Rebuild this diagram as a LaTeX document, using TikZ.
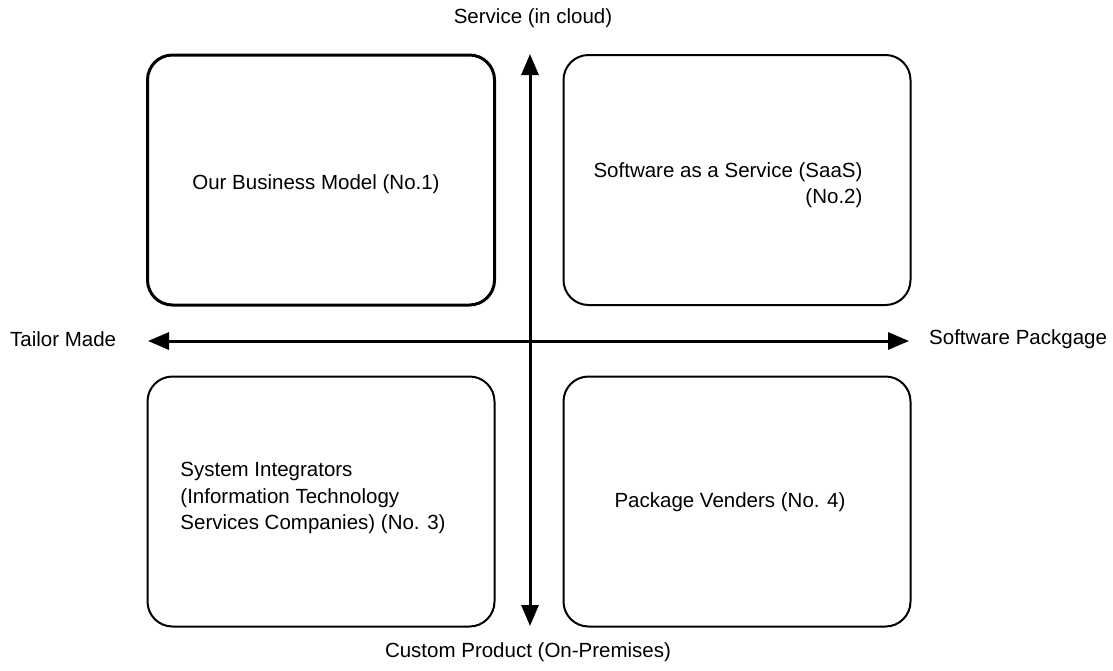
\documentclass[tikz,border=0pt]{standalone}
\usepackage{fontspec}
\setmainfont{Liberation Sans}
\usetikzlibrary{arrows.meta}
\begin{document}
\begin{tikzpicture}[x=1pt,y=-1pt,
  every node/.style={font=\fontsize{20.5}{26.5}\selectfont, inner sep=0pt},
  quad/.style={draw, line width=2pt, rounded corners=25pt, minimum width=347pt, minimum height=250pt},
  axis/.style={line width=3pt, -{Triangle[length=21pt,width=17pt]}},
  lbl/.style={}]
\useasboundingbox (0,0) rectangle (1113,670);
\node[quad, line width=3pt] (b1) at (321,180) {};
\node[quad] (b2) at (737,180) {};
\node[quad] (b3) at (321,501.5) {};
\node[quad] (b4) at (737,501.5) {};
\node[lbl] (t1) at (316,184) {Our Business Model (No.1)};
\node[lbl, align=right] (t2) at (728,185) {Software as a Service (SaaS)\\(No.2)};
\node[lbl, align=left] (t3) at (313,498) {System Integrators\\(Information Technology\\Services Companies) (No. 3)};
\node[lbl] (t4) at (730,502) {Package Venders (No. 4)};
\node[lbl] (top) at (533,18) {Service (in cloud)};
\node[lbl] (bot) at (528,652) {Custom Product (On-Premises)};
\node[lbl, anchor=west] (lft) at (10,339) {Tailor Made};
\node[lbl, anchor=west] (rgt) at (929,339) {Software Packgage};
\coordinate (vc) at (530,341);
\coordinate (vt) at (530,54);
\coordinate (vb) at (530,626);
\coordinate (hl) at (148,341);
\coordinate (hr) at (909,341);
\draw[axis] (vc) -- (vt);
\draw[axis] (vc) -- (vb);
\draw[axis] (vc) -- (hl);
\draw[axis] (vc) -- (hr);
\end{tikzpicture}
\end{document}
